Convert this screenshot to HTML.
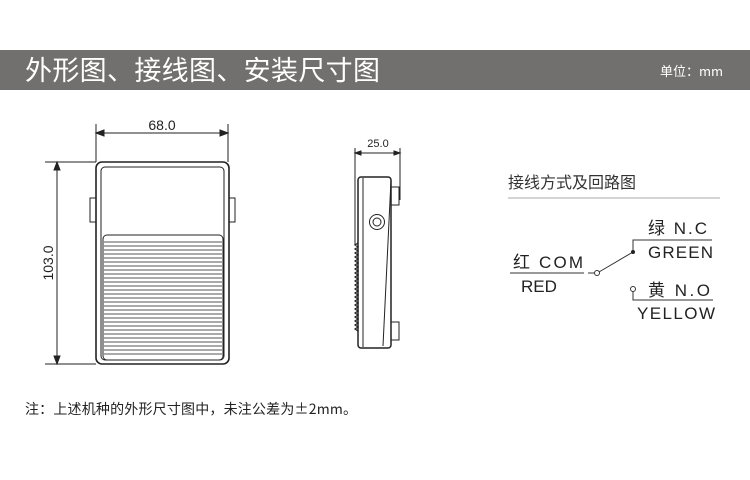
<!DOCTYPE html>
<html><head><meta charset="utf-8"><style>
body{margin:0;background:#fff;width:750px;height:480px;overflow:hidden;font-family:"Liberation Sans","Noto Sans CJK SC",sans-serif}
</style></head><body>
<svg width="750" height="480" xmlns="http://www.w3.org/2000/svg" style="position:absolute;left:0;top:0">
<rect x="0" y="50" width="750" height="40" fill="#71706e"/>
<text x="25" y="80" fill="#fff" font-size="27" font-family="Noto Sans CJK SC, sans-serif" textLength="355">外形图、接线图、安装尺寸图</text>
<text x="660" y="76" fill="#fff" font-size="13" font-family="Noto Sans CJK SC, sans-serif">单位：mm</text>

<g stroke="#222" fill="none" stroke-width="1">
<line x1="96" y1="124" x2="96" y2="162"/><line x1="228" y1="124" x2="228" y2="162"/>
<line x1="99" y1="133" x2="225" y2="133"/>
<path d="M96 133 l8 -3 v6z M228 133 l-8 -3 v6z" fill="#222"/>
<line x1="45" y1="162" x2="96" y2="162"/><line x1="45" y1="364" x2="96" y2="364"/>
<line x1="57" y1="165" x2="57" y2="361"/>
<path d="M57 162 l-3 8 h6z M57 364 l-3 -8 h6z" fill="#222"/>
<rect x="96" y="162" width="133" height="202" rx="6" stroke-width="1.6"/>
<rect x="101" y="167" width="123" height="193" rx="4"/>
<rect x="90" y="198" width="6" height="24"/><rect x="229" y="198" width="6" height="24"/>
<rect x="103" y="235" width="120" height="125" rx="4"/>
</g>
<g stroke="#555" stroke-width="0.9">
<line x1="104" y1="242" x2="222" y2="242"/><line x1="104" y1="246" x2="222" y2="246"/><line x1="104" y1="250" x2="222" y2="250"/><line x1="104" y1="254" x2="222" y2="254"/><line x1="104" y1="258" x2="222" y2="258"/><line x1="104" y1="262" x2="222" y2="262"/><line x1="104" y1="266" x2="222" y2="266"/><line x1="104" y1="270" x2="222" y2="270"/><line x1="104" y1="274" x2="222" y2="274"/><line x1="104" y1="278" x2="222" y2="278"/><line x1="104" y1="282" x2="222" y2="282"/><line x1="104" y1="286" x2="222" y2="286"/><line x1="104" y1="290" x2="222" y2="290"/><line x1="104" y1="294" x2="222" y2="294"/><line x1="104" y1="298" x2="222" y2="298"/><line x1="104" y1="302" x2="222" y2="302"/><line x1="104" y1="306" x2="222" y2="306"/><line x1="104" y1="310" x2="222" y2="310"/><line x1="104" y1="314" x2="222" y2="314"/><line x1="104" y1="318" x2="222" y2="318"/><line x1="104" y1="322" x2="222" y2="322"/><line x1="104" y1="326" x2="222" y2="326"/><line x1="104" y1="330" x2="222" y2="330"/><line x1="104" y1="334" x2="222" y2="334"/><line x1="104" y1="338" x2="222" y2="338"/><line x1="104" y1="342" x2="222" y2="342"/><line x1="104" y1="346" x2="222" y2="346"/><line x1="104" y1="350" x2="222" y2="350"/><line x1="104" y1="354" x2="222" y2="354"/>
</g>
<text x="162" y="130" font-size="14" text-anchor="middle" fill="#222">68.0</text>
<text transform="translate(53,263) rotate(-90)" font-size="14" text-anchor="middle" fill="#222">103.0</text>

<g stroke="#222" fill="none" stroke-width="1">
<line x1="355" y1="148" x2="355" y2="245"/><line x1="400" y1="148" x2="400" y2="200"/>
<line x1="358" y1="153" x2="397" y2="153"/>
<path d="M355 153 l6 -2 v4z M400 153 l-6 -2 v4z" fill="#222"/>
<rect x="358" y="177" width="33" height="171" rx="3" stroke-width="1.5"/>
<line x1="363" y1="178" x2="363" y2="347"/>
<line x1="391" y1="180" x2="383" y2="346"/>
<rect x="391" y="187" width="8" height="18"/><rect x="391" y="322" width="8" height="18"/>
<circle cx="377" cy="222" r="7.5"/><circle cx="377" cy="222" r="4"/>
<path d="M358 243 l-3 2 l3 2 l-3 2 l3 2 l-3 2 l3 2 l-3 2 l3 2 l-3 2 l3 2 l-3 2 l3 2 l-3 2 l3 2 l-3 2 l3 2 l-3 2 l3 2 l-3 2 l3 2 l-3 2 l3 2 l-3 2 l3 2 l-3 2 l3 2 l-3 2 l3 2 l-3 2 l3 2 l-3 2 l3 2 l-3 2 l3 2 l-3 2 l3 2 l-3 2 l3 2 l-3 2 l3 2 l-3 2 l3 2 l-3 2 l3 2" stroke-width="1.2"/>
</g>
<text x="378" y="147" font-size="11" text-anchor="middle" fill="#222">25.0</text>

<text x="508" y="188" font-size="16" fill="#333" font-family="Noto Sans CJK SC, sans-serif">接线方式及回路图</text>
<line x1="508" y1="198" x2="720" y2="198" stroke="#aaa" stroke-width="1"/>
<g stroke="#333" fill="none" stroke-width="1">
<line x1="510" y1="273" x2="584" y2="273"/><line x1="588" y1="273" x2="594" y2="273"/>
<circle cx="597" cy="273" r="2.5" fill="#fff"/>
<line x1="599" y1="272" x2="633" y2="252"/>
<polyline points="633,252 633,240 712,240"/>
<circle cx="633" cy="289" r="2.5" fill="#fff"/>
<polyline points="633,291 633,300 713,300"/>
</g>
<circle cx="633" cy="252" r="2" fill="#222"/>
<g fill="#222" font-size="17" font-family="Liberation Sans, Noto Sans CJK SC, sans-serif">
<text x="513" y="268" textLength="70">红 COM</text>
<text x="521" y="292">RED</text>
<text x="648" y="234" textLength="59">绿 N.C</text>
<text x="648" y="258" textLength="65">GREEN</text>
<text x="648" y="296" textLength="62">黄 N.O</text>
<text x="637" y="319" textLength="78">YELLOW</text>
</g>
<text x="25" y="414" font-size="14" fill="#222" font-family="Noto Sans CJK SC, sans-serif" textLength="332">注：上述机种的外形尺寸图中，未注公差为±2mm。</text>
</svg>
</body></html>
